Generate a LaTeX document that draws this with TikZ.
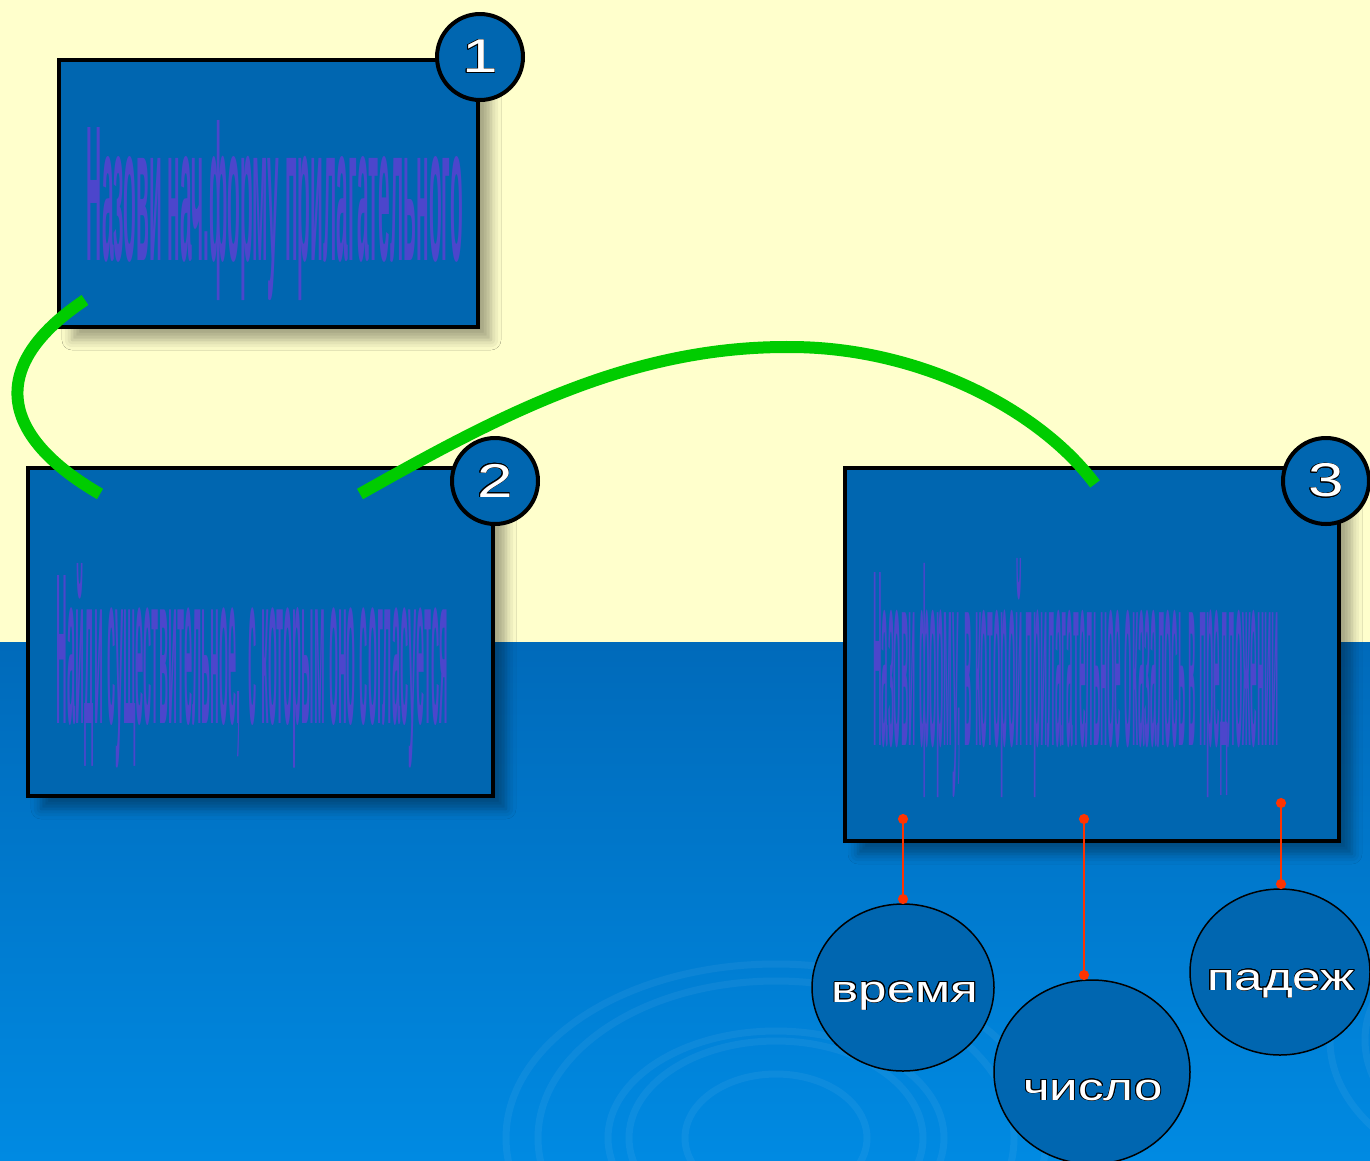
\documentclass[tikz,border=0pt]{standalone}
\usepackage{graphicx}
\usepackage{fontspec}
\setmainfont{Liberation Sans}
\newfontfamily\badgefont[FakeStretch=1.35]{Liberation Sans}
\usepackage{contour}
\contourlength{0.45pt}
\usetikzlibrary{shapes.geometric,shadows.blur,arrows.meta}
\definecolor{cream}{RGB}{255,255,204}
\definecolor{seatop}{RGB}{0,106,186}
\definecolor{seabot}{RGB}{0,138,226}
\definecolor{boxblue}{RGB}{0,102,176}
\definecolor{inkviolet}{RGB}{76,70,204}
\definecolor{linkgreen}{RGB}{0,204,0}
\definecolor{pinred}{RGB}{255,51,0}
\newcommand{\squash}[3]{\resizebox{#1}{#2}{\bfseries #3}}
\newcommand{\whiteword}[1]{\textcolor{white}{\contour{black}{#1}}}
\tikzset{
  task/.style={rectangle,draw=black,line width=0.8mm,fill=boxblue,inner sep=0pt,outer sep=0pt,
    blur shadow={shadow xshift=2.6mm,shadow yshift=-2.6mm,shadow blur radius=2mm,shadow opacity=35}},
  tasktext/.style={inner sep=0pt,anchor=base,text=inkviolet},
  badge/.style={circle,draw=black,line width=0.8mm,fill=boxblue,minimum size=17.2mm,inner sep=0pt,
    font=\badgefont\fontsize{27}{27}\selectfont},
  oval/.style={ellipse,draw=black,line width=0.3mm,fill=boxblue,inner sep=0pt,outer sep=0pt},
  word/.style={inner sep=0pt,anchor=base,font=\badgefont\fontsize{21.5}{21.5}\selectfont},
  link/.style={line width=2.4mm,draw=linkgreen},
  pin/.style={line width=0.4mm,draw=pinred,{Circle[length=2mm]}-{Circle[length=2mm]}},
  ripple/.style={draw=white,opacity=0.05,line width=1.4mm}
}
\begin{document}
\begin{tikzpicture}[x=0.2mm,y=-0.2mm] % slide in pixel units
\useasboundingbox (0,0) rectangle (1370,1160);
\fill[cream] (0,0) rectangle (1370,642);
\shade[top color=seatop,bottom color=seabot] (0,642) rectangle (1370,1160);
\foreach \rx/\ry in {270/174,238/157,168/107,147/97,91/64}
  \draw[ripple] (776,1138) ellipse [x radius=\rx, y radius=\ry];
\foreach \rx/\ry in {230/150,195/128}
  \draw[ripple] (1560,1040) ellipse [x radius=\rx, y radius=\ry];
% task boxes
\node[task,minimum width=83.8mm,minimum height=53.4mm] (q1) at (268.5,193.5) {};
\node[task,minimum width=93mm,minimum height=65.6mm] (q2) at (260.5,632) {};
\node[task,minimum width=98.8mm,minimum height=74.6mm] (q3) at (1092,654.5) {};
\node[tasktext] (t1) at (275,260) {\squash{75.2mm}{28mm}{Назови нач.форму прилагательного}};
\node[tasktext] (t2) at (252.5,723) {\squash{78.2mm}{32mm}{Найди существительное,\ \ с которым оно согласуется}};
\node[tasktext] (t3) at (1076,745) {\squash{81.2mm}{37.4mm}{Назови форму, в которой прилагательное оказалось в предложении}};
% green links
\coordinate (a1) at (85,300);
\coordinate (a2) at (100,494);
\coordinate (b1) at (360,494);
\coordinate (bTop) at (790,347);
\coordinate (b2) at (1095,484);
\draw[link] (a1) .. controls (-5,360) and (-10,430) .. (a2);
\draw[link] (b1) .. controls (500,415) and (630,346) .. (bTop)
  .. controls (920,347) and (1040,410) .. (b2);
% number badges
\node[badge] (n1) at (480,57) {\whiteword{1}};
\node[badge] (n2) at (495,481) {\whiteword{2}};
\node[badge] (n3) at (1326,481) {\whiteword{3}};
% answer ovals
\node[oval,minimum width=36.4mm,minimum height=33.4mm] (time) at (903,987.5) {};
\node[oval,minimum width=39.2mm,minimum height=36.8mm] (num) at (1092,1072) {};
\node[oval,minimum width=36mm,minimum height=33.2mm] (case) at (1280,972) {};
\node[word] (wTime) at (905,1002) {\whiteword{время}};
\node[word] (wNum) at (1093,1100) {\whiteword{число}};
\node[word] (wCase) at (1281,990) {\whiteword{падеж}};
\coordinate (pTime) at (903,814);
\coordinate (pNum) at (1084,814);
\coordinate (pCase) at (1281,798);
\draw[pin] (pTime) -- (time.north);
\draw[pin] (pNum) -- (pNum |- num.north);
\draw[pin] (pCase) -- (pCase |- case.north);
\end{tikzpicture}
\end{document}
